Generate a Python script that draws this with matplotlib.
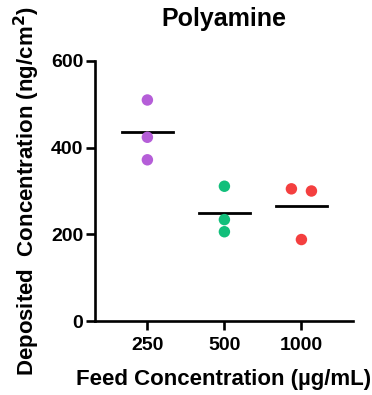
import matplotlib.pyplot as plt
import numpy as np

plt.rcParams['font.family'] = ['Liberation Sans', 'DejaVu Sans']
plt.rcParams['font.weight'] = 'bold'

groups = ["250", "500", "1000"]
values = [
    [510, 424, 372],
    [311, 234, 206],
    [305, 300, 188],
]
jitter = [
    [0, 0, 0],
    [0, 0, 0],
    [-0.13, 0.13, 0],
]
colors = ["#B55ED8", "#12BF7B", "#F43F3F"]

fig = plt.figure(figsize=(3.72, 3.95), dpi=100)
ax = fig.add_axes([0.2554, 0.1873, 0.6936, 0.6583])

for i, (vals, jit, c) in enumerate(zip(values, jitter, colors)):
    xs = i + np.array(jit)
    ax.scatter(xs, vals, s=68, color=c, edgecolors="none", zorder=3)
    m = np.mean(vals)
    ax.plot([i - 0.33, i + 0.33], [m, m], color="black", lw=2, zorder=2)

ax.set_xlim(-0.68, 2.67)
ax.set_ylim(0, 600)
ax.set_yticks([0, 200, 400, 600])
ax.set_xticks(range(len(groups)))
ax.set_xticklabels(groups)

for s in ["top", "right"]:
    ax.spines[s].set_visible(False)
for s in ["left", "bottom"]:
    ax.spines[s].set_linewidth(1.9)
ax.tick_params(width=1.9, length=6.5, labelsize=14, pad=2)
ax.tick_params(axis="x", pad=5)
for lab in ax.get_xticklabels() + ax.get_yticklabels():
    lab.set_fontweight("bold")

ax.set_title("Polyamine", fontsize=18, fontweight="bold", pad=25)
ax.set_xlabel("Feed Concentration (µg/mL)", fontsize=16, fontweight="bold", labelpad=11)
ax.set_ylabel("Deposited  Concentration (ng/cm$^\\mathbf{2}$)", fontsize=16,
              fontweight="bold", labelpad=6)

fig.savefig("out.png", dpi=100)
